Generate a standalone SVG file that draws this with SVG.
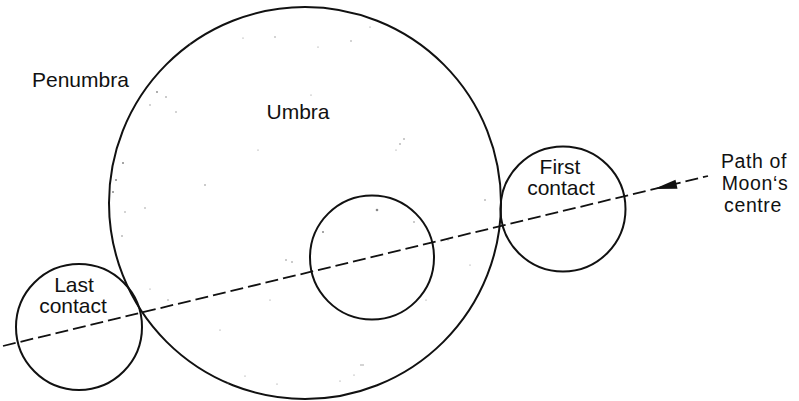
<svg xmlns="http://www.w3.org/2000/svg" width="799" height="401" viewBox="0 0 799 401">
  <style>
    .disc { fill: none; stroke: #111; stroke-width: 2; }
    .path { fill: none; stroke: #111; stroke-width: 1.8; stroke-dasharray: 13 5; }
    .lbl { font-family: "Liberation Sans", Arial, sans-serif; font-size: 21px; fill: #111; }
    .note { font-size: 19.5px; letter-spacing: 0.6px; }
    .mid { text-anchor: middle; }
    .speck { fill: #888; }
  </style>
  <rect width="799" height="401" fill="#fff"/>

  <!-- Earth's shadow: umbra disc with light stipple -->
  <g id="umbra">
    <circle class="disc" cx="305" cy="203" r="196"/>
    <g class="speck">
      <circle cx="157" cy="92" r="0.9"/><circle cx="166" cy="97" r="0.8"/>
      <circle cx="150" cy="105" r="0.7"/><circle cx="176" cy="112" r="0.7"/>
      <circle cx="190" cy="44" r="0.6"/><circle cx="243" cy="38" r="0.6"/>
      <circle cx="275" cy="37" r="0.7"/><circle cx="318" cy="47" r="0.6"/>
      <circle cx="351" cy="41" r="0.7"/><circle cx="370" cy="27" r="0.6"/>
      <circle cx="400" cy="144" r="0.8"/><circle cx="404" cy="139" r="0.8"/>
      <circle cx="396" cy="150" r="0.6"/><circle cx="311" cy="95" r="0.6"/>
      <circle cx="123" cy="163" r="1"/><circle cx="116" cy="180" r="1"/>
      <circle cx="113" cy="192" r="1"/><circle cx="125" cy="212" r="0.7"/>
      <circle cx="122" cy="236" r="0.8"/><circle cx="145" cy="208" r="0.7"/>
      <circle cx="205" cy="185" r="0.8"/><circle cx="258" cy="150" r="0.6"/>
      <circle cx="286" cy="260" r="0.8"/><circle cx="292" cy="262" r="0.8"/>
      <circle cx="377" cy="210" r="1.3"/><circle cx="323" cy="232" r="1"/>
      <circle cx="414" cy="222" r="0.8"/><circle cx="426" cy="300" r="0.6"/>
      <circle cx="448" cy="240" r="0.6"/><circle cx="470" cy="265" r="0.6"/>
      <circle cx="228" cy="383" r="0.6"/><circle cx="277" cy="384" r="0.6"/>
      <circle cx="340" cy="381" r="0.6"/><circle cx="354" cy="375" r="0.6"/>
      <circle cx="361" cy="365" r="0.7"/><circle cx="363" cy="365" r="0.7"/>
      <circle cx="245" cy="376" r="0.6"/><circle cx="485" cy="200" r="0.8"/>
      <circle cx="168" cy="300" r="0.7"/><circle cx="150" cy="289" r="0.6"/>
      <circle cx="220" cy="330" r="0.6"/><circle cx="270" cy="300" r="0.6"/>
    </g>
  </g>

  <!-- Moon at first contact -->
  <g id="first-contact">
    <circle class="disc" cx="563" cy="209" r="62.5"/>
    <text class="lbl mid" x="560" y="174">First</text>
    <text class="lbl mid" x="561" y="195">contact</text>
  </g>

  <!-- Moon at mid-eclipse -->
  <g id="mid-eclipse">
    <circle class="disc" cx="372" cy="257.5" r="62"/>
  </g>

  <!-- Moon at last contact -->
  <g id="last-contact">
    <circle class="disc" cx="79" cy="327" r="63"/>
    <text class="lbl mid" x="74" y="292">Last</text>
    <text class="lbl mid" x="73" y="313">contact</text>
  </g>

  <!-- Region labels -->
  <g id="labels">
    <text class="lbl" x="32" y="87">Penumbra</text>
    <text class="lbl mid" x="298" y="119">Umbra</text>
  </g>

  <!-- Path label -->
  <g id="path-label">
    <text class="lbl note mid" x="754" y="168">Path of</text>
    <text class="lbl note mid" x="755" y="190">Moon‘s</text>
    <text class="lbl note mid" x="753" y="212">centre</text>
  </g>

  <!-- Path of the Moon's centre with direction arrow -->
  <g id="connectors">
    <line class="path" x1="3" y1="346" x2="708" y2="176"/>
    <polygon points="654,189 677.5,188.8 675.5,179.8" fill="#111"/>
  </g>
</svg>
